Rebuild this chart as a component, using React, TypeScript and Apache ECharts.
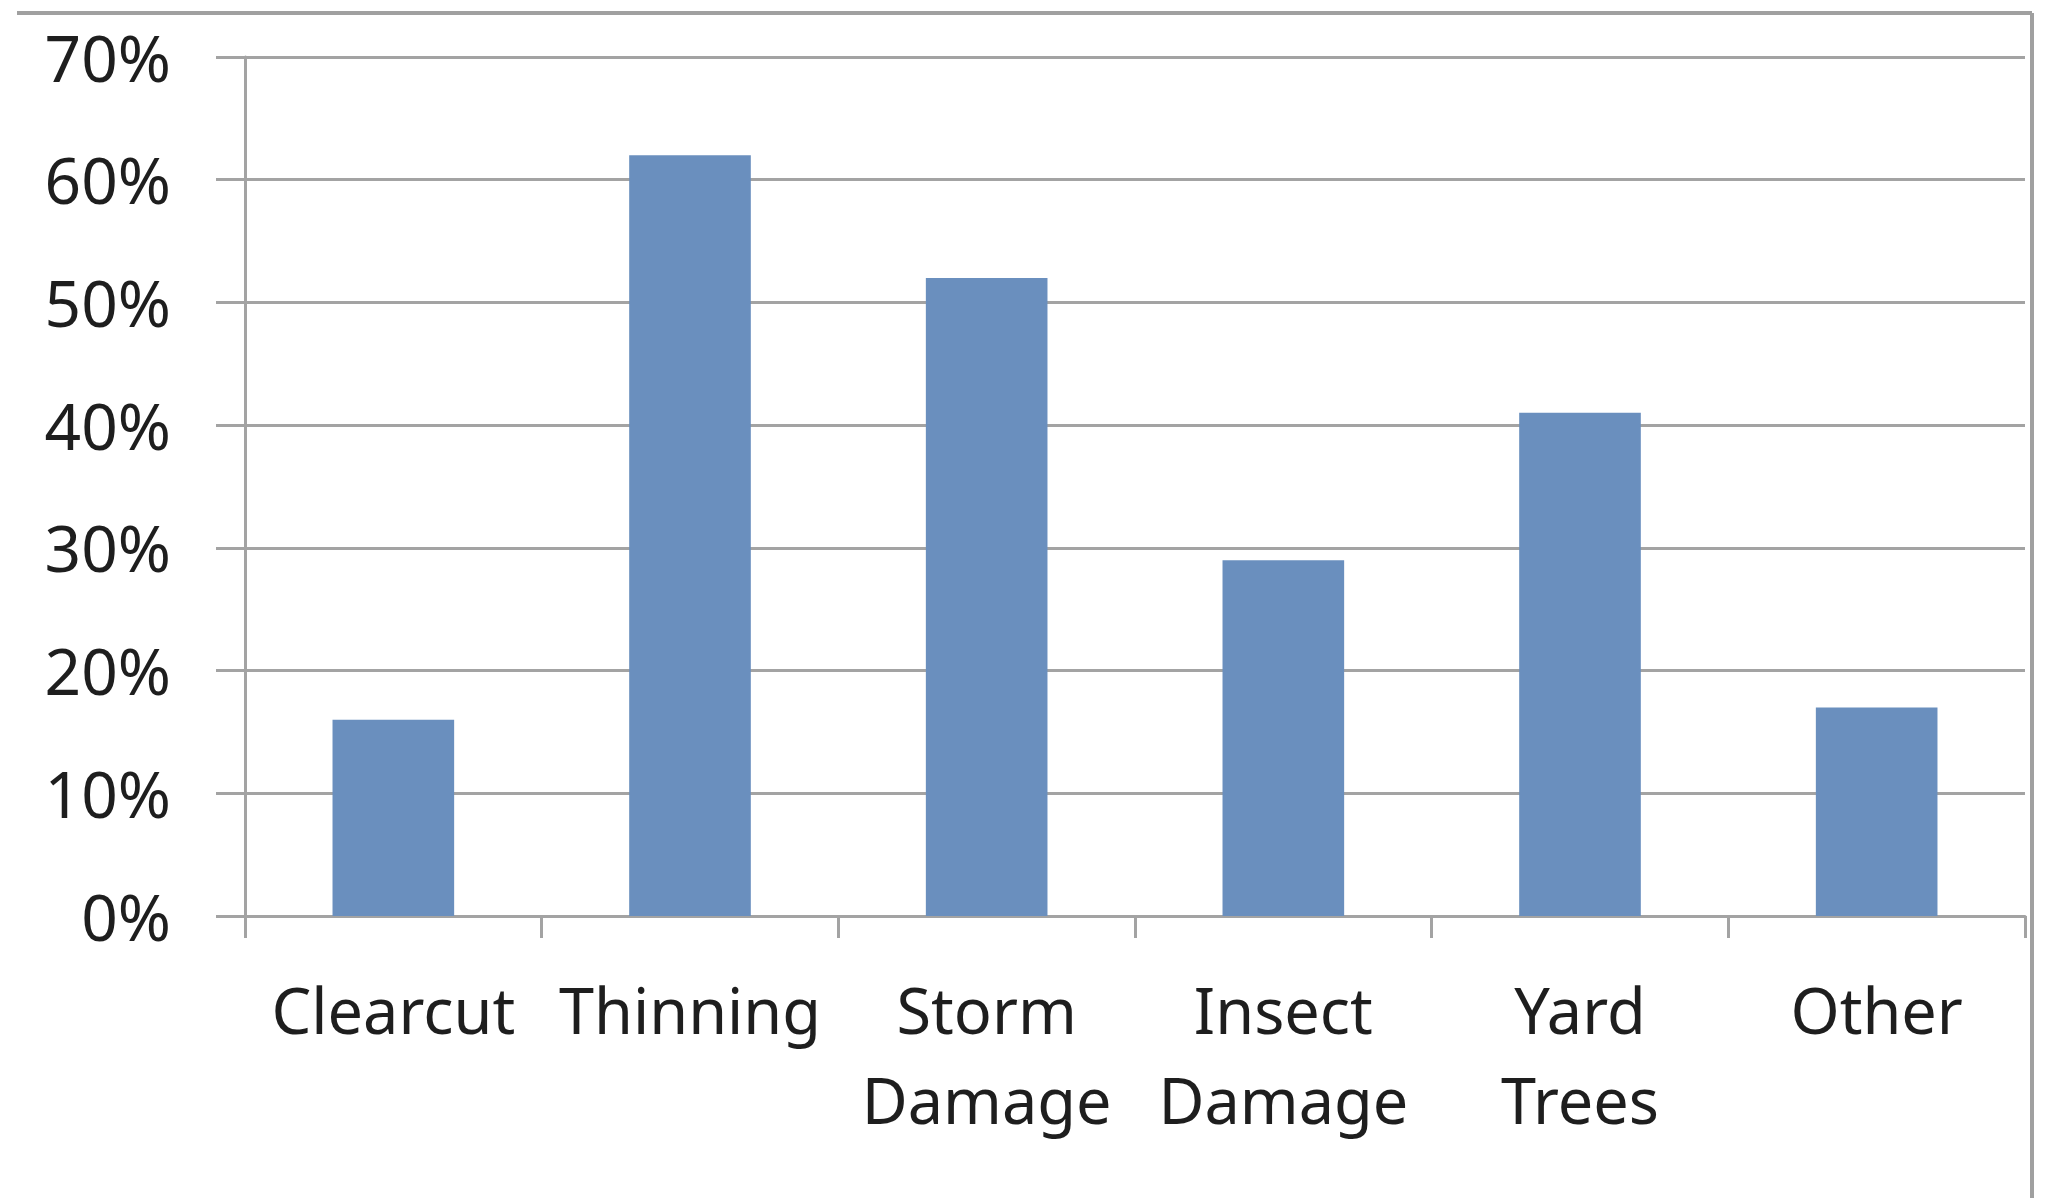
import React from 'react';
import * as echarts from 'echarts';

const categories = ['Clearcut', 'Thinning', 'Storm\nDamage', 'Insect\nDamage', 'Yard\nTrees', 'Other'];
const shares = [16, 62, 52, 29, 41, 17];
const yTicks = { min: 0, max: 70, interval: 10 };

const App = () => {
  const chartRef = React.useRef(null);

  React.useEffect(() => {
    const myChart = echarts.init(chartRef.current, null, { renderer: 'svg' });

    const option: any = {
      animation: false,
      backgroundColor: '#fff',
      grid: { left: 245, right: 23, top: 57, bottom: 282 },
      xAxis: {
        type: 'category',
        data: categories,
        axisLine: { lineStyle: { color: '#a3a3a3', width: 3 } },
        axisTick: { show: true, length: 22, lineStyle: { color: '#a3a3a3', width: 3 } },
        axisLabel: {
          color: '#1e1e1e',
          fontFamily: 'Noto Sans',
          fontSize: 63,
          lineHeight: 90,
          margin: 48,
          interval: 0,
        },
      },
      yAxis: {
        type: 'value',
        min: yTicks.min,
        max: yTicks.max,
        interval: yTicks.interval,
        axisLine: { show: true, lineStyle: { color: '#a3a3a3', width: 3 } },
        axisTick: { show: true, length: 29, lineStyle: { color: '#a3a3a3', width: 3 } },
        splitLine: { lineStyle: { color: '#a3a3a3', width: 3 } },
        axisLabel: {
          formatter: '{value}%',
          color: '#1e1e1e',
          fontFamily: 'Noto Sans',
          fontSize: 64,
          margin: 74,
          padding: [26, 0, 0, 0],
        },
      },
      series: [
        {
          type: 'bar',
          data: shares,
          barWidth: '41%',
          itemStyle: { color: '#6a8fbe' },
        },
      ],
      graphic: [
        {
          type: 'line',
          shape: { x1: 17, y1: 13, x2: 2032, y2: 13 },
          style: { stroke: '#a0a0a0', lineWidth: 4 },
        },
        {
          type: 'line',
          shape: { x1: 2032, y1: 13, x2: 2032, y2: 1198 },
          style: { stroke: '#a0a0a0', lineWidth: 4 },
        },
      ],
    };

    myChart.setOption(option);

    return () => {
      myChart.dispose();
    };
  }, []);

  return (
    <div
      ref={chartRef}
      style={{ position: 'fixed', left: 0, top: 0, width: '2048px', height: '1198px' }}
    />
  );
};

export default App;
